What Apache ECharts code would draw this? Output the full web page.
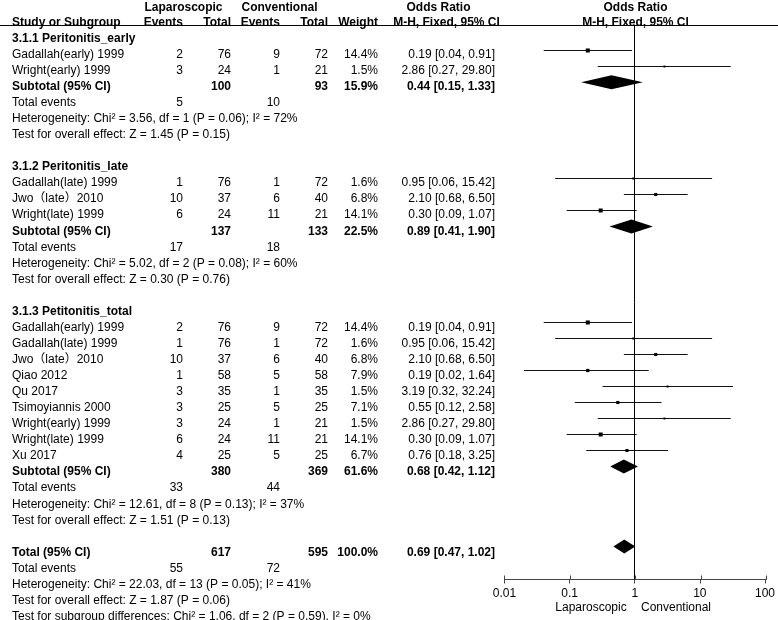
<!DOCTYPE html>
<html><head><meta charset="utf-8">
<script src="https://cdn.jsdelivr.net/npm/echarts@6/dist/echarts.min.js"></script>
<style>html,body{margin:0;padding:0;background:#fff}#c{width:778px;height:620px}</style>
</head><body><div id="c"></div>
<script>
// ---------------- DATA ----------------
const groupTitles = ["3.1.1 Peritonitis_early", "3.1.2 Peritonitis_late", "3.1.3 Petitonitis_total"];
const studyGroup = [0,0,1,1,1,2,2,2,2,2,2,2,2,2];
const studyNames = ["Gadallah(early) 1999","Wright(early) 1999","Gadallah(late) 1999","Jwo（late）2010","Wright(late) 1999",
  "Gadallah(early) 1999","Gadallah(late) 1999","Jwo（late）2010","Qiao 2012","Qu 2017","Tsimoyiannis 2000","Wright(early) 1999","Wright(late) 1999","Xu 2017"];
const lapEvents  = [2,3,1,10,6,2,1,10,1,3,3,3,6,4];
const lapTotal   = [76,24,76,37,24,76,76,37,58,35,25,24,24,25];
const convEvents = [9,1,1,6,11,9,1,6,5,1,5,1,11,5];
const convTotal  = [72,21,72,40,21,72,72,40,58,35,25,21,21,25];
const weights    = [14.4,1.5,1.6,6.8,14.1,14.4,1.6,6.8,7.9,1.5,7.1,1.5,14.1,6.7];
const orEst  = [0.19,2.86,0.95,2.10,0.30,0.19,0.95,2.10,0.19,3.19,0.55,2.86,0.30,0.76];
const orLow  = [0.04,0.27,0.06,0.68,0.09,0.04,0.06,0.68,0.02,0.32,0.12,0.27,0.09,0.18];
const orHigh = [0.91,29.80,15.42,6.50,1.07,0.91,15.42,6.50,1.64,32.24,2.58,29.80,1.07,3.25];

const subLapEvents  = [5,17,33];
const subConvEvents = [10,18,44];
const subLapTotal   = [100,137,380];
const subConvTotal  = [93,133,369];
const subWeight     = [15.9,22.5,61.6];
const subEst  = [0.44,0.89,0.68];
const subLow  = [0.15,0.41,0.42];
const subHigh = [1.33,1.90,1.12];
const subHet = ["Chi² = 3.56, df = 1 (P = 0.06); I² = 72%","Chi² = 5.02, df = 2 (P = 0.08); I² = 60%","Chi² = 12.61, df = 8 (P = 0.13); I² = 37%"];
const subZ = ["Z = 1.45 (P = 0.15)","Z = 0.30 (P = 0.76)","Z = 1.51 (P = 0.13)"];

const totLapEvents = [55], totConvEvents = [72], totLapTotal = [617], totConvTotal = [595], totWeight = [100.0];
const totEst = [0.69], totLow = [0.47], totHigh = [1.02];
const totHet = ["Chi² = 22.03, df = 13 (P = 0.05); I² = 41%"];
const totZ = ["Z = 1.87 (P = 0.06)"];
const subgroupDiff = ["Chi² = 1.06, df = 2 (P = 0.59), I² = 0%"];

const axisTicks = [0.01, 0.1, 1, 10, 100];
const favourLabels = ["Laparoscopic", "Conventional"];

// ---------------- LAYOUT ----------------
const W = 778, H = 620;
const ROW_H = 16.06, ROW0 = 38.5;        // text rows
const PROW_H = 16.01, PROW0 = 34.3;      // plot rows
const AXIS_Y = 579.5, RULE_Y = 25.5;
const PLOT_L = 504.5, PLOT_W = 262;
const COL = {name:12, lapEv:183, lapTot:231, convEv:280, convTot:328, weight:378, or:495};
const tMin = -ROW0 / ROW_H, tMax = tMin + H / ROW_H;
const pMin = -PROW0 / PROW_H, pMax = pMin + AXIS_Y / PROW_H;
const pxRow = px => (px + 1.5 - ROW0) / ROW_H;

const f2 = v => v.toFixed(2);
const orText = (e,l,h) => f2(e) + " [" + f2(l) + ", " + f2(h) + "]";

const cells = [];
const marks = [];
function cell(x, r, text, align, bold) { cells.push({x, r, text: String(text), align: align || 'right', bold: !!bold}); }

// headers
cell(183.5, pxRow(6), "Laparoscopic", 'center', true);
cell(279.5, pxRow(6), "Conventional", 'center', true);
cell(438.5, pxRow(6), "Odds Ratio", 'center', true);
cell(635.5, pxRow(6), "Odds Ratio", 'center', true);
cell(COL.name, pxRow(21), "Study or Subgroup", 'left', true);
cell(COL.lapEv, pxRow(21), "Events", 'right', true);
cell(COL.lapTot, pxRow(21), "Total", 'right', true);
cell(COL.convEv, pxRow(21), "Events", 'right', true);
cell(COL.convTot, pxRow(21), "Total", 'right', true);
cell(COL.weight, pxRow(21), "Weight", 'right', true);
cell(446.5, pxRow(21), "M-H, Fixed, 95% CI", 'center', true);
cell(635.5, pxRow(21), "M-H, Fixed, 95% CI", 'center', true);

let r = 0;
for (let g = 0; g < groupTitles.length; g++) {
  cell(COL.name, r, groupTitles[g], 'left', true); r++;
  for (let i = 0; i < studyNames.length; i++) {
    if (studyGroup[i] !== g) continue;
    cell(COL.name, r, studyNames[i], 'left');
    cell(COL.lapEv, r, lapEvents[i]); cell(COL.lapTot, r, lapTotal[i]);
    cell(COL.convEv, r, convEvents[i]); cell(COL.convTot, r, convTotal[i]);
    cell(COL.weight, r, weights[i].toFixed(1) + "%");
    cell(COL.or, r, orText(orEst[i], orLow[i], orHigh[i]));
    marks.push({r, est: orEst[i], lo: orLow[i], hi: orHigh[i], w: weights[i], diamond: false});
    r++;
  }
  cell(COL.name, r, "Subtotal (95% CI)", 'left', true);
  cell(COL.lapTot, r, subLapTotal[g], 'right', true);
  cell(COL.convTot, r, subConvTotal[g], 'right', true);
  cell(COL.weight, r, subWeight[g].toFixed(1) + "%", 'right', true);
  cell(COL.or, r, orText(subEst[g], subLow[g], subHigh[g]), 'right', true);
  marks.push({r, est: subEst[g], lo: subLow[g], hi: subHigh[g], diamond: true});
  r++;
  cell(COL.name, r, "Total events", 'left'); cell(COL.lapEv, r, subLapEvents[g]); cell(COL.convEv, r, subConvEvents[g]); r++;
  cell(COL.name, r, "Heterogeneity: " + subHet[g], 'left'); r++;
  cell(COL.name, r, "Test for overall effect: " + subZ[g], 'left'); r++;
  r++;
}
cell(COL.name, r, "Total (95% CI)", 'left', true);
cell(COL.lapTot, r, totLapTotal[0], 'right', true);
cell(COL.convTot, r, totConvTotal[0], 'right', true);
cell(COL.weight, r, totWeight[0].toFixed(1) + "%", 'right', true);
cell(COL.or, r, orText(totEst[0], totLow[0], totHigh[0]), 'right', true);
marks.push({r, est: totEst[0], lo: totLow[0], hi: totHigh[0], diamond: true});
r++;
cell(COL.name, r, "Total events", 'left'); cell(COL.lapEv, r, totLapEvents[0]); cell(COL.convEv, r, totConvEvents[0]); r++;
cell(COL.name, r, "Heterogeneity: " + totHet[0], 'left'); r++;
cell(COL.name, r, "Test for overall effect: " + totZ[0], 'left'); r++;
cell(COL.name, r, "Test for subgroup differences: " + subgroupDiff[0], 'left'); r++;

cell(591, pxRow(606), favourLabels[0], 'center');
cell(676, pxRow(606), favourLabels[1], 'center');

// reference line at OR = 1
marks.push({vline: true, x: 1, y1: pMin + RULE_Y / PROW_H, y2: pMax});

const FONT = '"Liberation Sans", Arial, "Noto Sans CJK SC", sans-serif';
const crisp = v => Math.round(v - 0.5) + 0.5;
const AX_COLOR = '#444';

const chart = echarts.init(document.getElementById('c'), null, {renderer: 'canvas'});
const axisCommon = {
  type: 'log', logBase: 10, min: axisTicks[0], max: axisTicks[axisTicks.length - 1],
  position: 'bottom', splitLine: {show: false},
  axisLine: {show: true, onZero: false, lineStyle: {color: AX_COLOR, width: 1}}
};
chart.setOption({
  animation: false,
  backgroundColor: '#fff',
  grid: [
    {left: 0, top: 0, width: W, height: H},
    {left: PLOT_L, top: 0, width: PLOT_W, height: AXIS_Y},
    {left: PLOT_L, top: 0, width: PLOT_W, height: AXIS_Y}
  ],
  xAxis: [
    {type: 'value', gridIndex: 0, min: 0, max: W, show: false},
    Object.assign({}, axisCommon, {
      gridIndex: 1,
      axisTick: {show: true, inside: false, length: 4, lineStyle: {color: AX_COLOR}},
      axisLabel: {show: true, margin: 8, color: '#000', fontSize: 12, fontFamily: FONT,
        formatter: v => { const k = axisTicks.findIndex(t => Math.abs(Math.log10(t) - Math.log10(v)) < 1e-6); return k >= 0 ? String(axisTicks[k]) : ''; }}
    }),
    Object.assign({}, axisCommon, {
      gridIndex: 2,
      axisTick: {show: true, inside: true, length: 4, lineStyle: {color: AX_COLOR}},
      axisLabel: {show: false}
    })
  ],
  yAxis: [
    {type: 'value', gridIndex: 0, min: tMin, max: tMax, inverse: true, show: false},
    {type: 'value', gridIndex: 1, min: pMin, max: pMax, inverse: true, show: false},
    {type: 'value', gridIndex: 2, min: pMin, max: pMax, inverse: true, show: false}
  ],
  graphic: [
    {type: 'line', shape: {x1: 0, y1: RULE_Y, x2: W, y2: RULE_Y}, style: {stroke: '#000', lineWidth: 1}, silent: true}
  ],
  series: [
    {
      type: 'custom', xAxisIndex: 0, yAxisIndex: 0, silent: true,
      data: cells.map(c => [c.x, c.r]),
      renderItem: (params, api) => {
        const c = cells[params.dataIndex];
        const p = api.coord([api.value(0), api.value(1)]);
        return {type: 'text', x: p[0], y: p[1], style: {
          text: c.text, align: c.align, verticalAlign: 'middle',
          font: (c.bold ? 'bold ' : '') + '12px ' + FONT, fill: '#000'}};
      }
    },
    {
      type: 'custom', xAxisIndex: 1, yAxisIndex: 1, silent: true, clip: false,
      data: marks.map(m => m.vline ? [m.x, m.y1, m.x, m.y2] : [m.lo, m.r, m.hi, m.est]),
      encode: {x: [0, 2], y: 1},
      renderItem: (params, api) => {
        const m = marks[params.dataIndex];
        if (m.vline) {
          const a = api.coord([api.value(0), api.value(1)]), b = api.coord([api.value(2), api.value(3)]);
          return {type: 'line', shape: {x1: crisp(a[0]), y1: a[1], x2: crisp(b[0]), y2: b[1]}, style: {stroke: '#000', lineWidth: 1}};
        }
        const pLo = api.coord([api.value(0), api.value(1)]);
        const pHi = api.coord([api.value(2), api.value(1)]);
        const pE = api.coord([api.value(3), api.value(1)]);
        if (m.diamond) {
          return {type: 'polygon', shape: {points: [[pLo[0], pE[1]], [pE[0], pE[1] - 7], [pHi[0], pE[1]], [pE[0], pE[1] + 7]]}, style: {fill: '#000'}};
        }
        const s = 1 + Math.sqrt(m.w) * 0.8;
        const y = crisp(pE[1]);
        return {type: 'group', children: [
          {type: 'line', shape: {x1: pLo[0], y1: y, x2: pHi[0], y2: y}, style: {stroke: '#111', lineWidth: 1}},
          {type: 'rect', shape: {x: pE[0] - s / 2, y: y - s / 2, width: s, height: s}, style: {fill: '#000'}}
        ]};
      }
    }
  ]
});
</script>
</body></html>
